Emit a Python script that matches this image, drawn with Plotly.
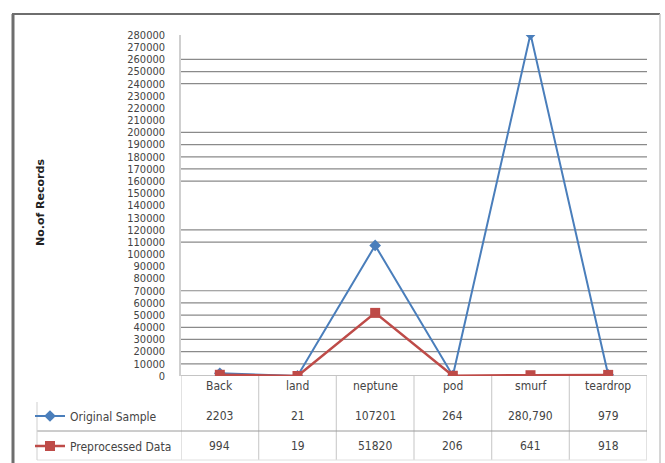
import plotly.graph_objects as go

# ---- data -------------------------------------------------------------
CATEGORIES = ["Back", "land", "neptune", "pod", "smurf", "teardrop"]
ORIGINAL_SAMPLE = [2203, 21, 107201, 264, 280790, 979]
PREPROCESSED_DATA = [994, 19, 51820, 206, 641, 918]
SERIES_NAMES = ["Original Sample", "Preprocessed Data"]
COMMA_COLUMNS = {"smurf"}  # cells printed with a thousands separator
Y_TICKS = list(range(0, 280001, 10000))
GRID_VALUES = [0, 10000, 20000, 30000, 40000, 50000, 60000, 70000,
               110000, 120000, 160000, 170000, 180000, 190000, 200000,
               240000, 250000, 260000]

W, H = 665, 463


def px(x):
    return x / W


def py(y):
    return 1 - y / H


BLUE = "#4a7ebb"
RED = "#be4b48"
TEXT = "#444444"
NARROW = "DejaVu Sans Condensed, Liberation Sans Narrow, Arial Narrow, sans-serif"

fig = go.Figure()
fig.add_trace(go.Scatter(
    x=CATEGORIES, y=ORIGINAL_SAMPLE, name=SERIES_NAMES[0], mode="lines+markers",
    line=dict(color=BLUE, width=2), marker=dict(symbol="diamond", size=9, color=BLUE),
    legend="legend"))
fig.add_trace(go.Scatter(
    x=CATEGORIES, y=PREPROCESSED_DATA, name=SERIES_NAMES[1], mode="lines+markers",
    line=dict(color=RED, width=2.5), marker=dict(symbol="square", size=10, color=RED),
    legend="legend2"))

shapes = []
# horizontal gridlines
for g in GRID_VALUES:
    shapes.append(dict(type="line", xref="paper", yref="y", x0=px(181), x1=px(647),
                       y0=g, y1=g, line=dict(color="#8a8a8a", width=1.2), layer="below"))

# data table grid below the plot
for i in range(len(CATEGORIES) + 1):
    shapes.append(dict(type="line", xref="x", yref="paper", x0=i - 0.5, x1=i - 0.5,
                       y0=py(376), y1=py(460), line=dict(color="#cfcfcf", width=1.2)))
shapes.append(dict(type="line", xref="paper", yref="paper", x0=px(37), x1=px(647),
                   y0=py(431), y1=py(431), line=dict(color="#9a9a9a", width=1)))
shapes.append(dict(type="line", xref="paper", yref="paper", x0=px(37), x1=px(647),
                   y0=py(460), y1=py(460), line=dict(color="#e0e0e0", width=1)))
shapes.append(dict(type="line", xref="paper", yref="paper", x0=px(37), x1=px(37),
                   y0=py(402), y1=py(460), line=dict(color="#cfcfcf", width=1)))

# chart frame
shapes.append(dict(type="line", xref="paper", yref="paper", x0=px(13), x1=px(13),
                   y0=py(14), y1=0, line=dict(color="#6e6e6e", width=3)))
shapes.append(dict(type="line", xref="paper", yref="paper", x0=px(12), x1=px(660),
                   y0=py(14), y1=py(14), line=dict(color="#6e6e6e", width=2)))
shapes.append(dict(type="line", xref="paper", yref="paper", x0=px(660), x1=px(660),
                   y0=py(14), y1=0, line=dict(color="#c8c8c8", width=1.5)))

annotations = []
# category row and value rows of the table
for i, cat in enumerate(CATEGORIES):
    annotations.append(dict(x=cat, y=py(386), xref="x", yref="paper", text=cat,
                            xanchor="center", yanchor="middle", showarrow=False,
                            font=dict(family=NARROW, size=12, color=TEXT)))
    for vals, row_y in ((ORIGINAL_SAMPLE, 416), (PREPROCESSED_DATA, 446)):
        v = vals[i]
        label = f"{v:,}" if cat in COMMA_COLUMNS else str(v)
        annotations.append(dict(x=cat, y=py(row_y), xref="x", yref="paper", text=label,
                                xanchor="center", yanchor="middle", showarrow=False,
                                font=dict(family=NARROW, size=12, color=TEXT)))

annotations.append(dict(x=px(40), y=py(203), xref="paper", yref="paper",
                        text="<b>No.of Records</b>", textangle=-90, showarrow=False,
                        xanchor="center", yanchor="middle",
                        font=dict(family="DejaVu Sans", size=11, color="#222222")))

legend_common = dict(bgcolor="rgba(0,0,0,0)", borderwidth=0, xanchor="left",
                     yanchor="middle", itemwidth=30,
                     font=dict(family=NARROW, size=12, color=TEXT))

fig.update_layout(
    width=W, height=H,
    margin=dict(l=0, r=0, t=0, b=0, pad=0, autoexpand=False),
    paper_bgcolor="white", plot_bgcolor="white",
    showlegend=True,
    legend=dict(x=px(30), y=py(416), **legend_common),
    legend2=dict(x=px(30), y=py(446), **legend_common),
    xaxis=dict(domain=[px(181), px(647)], range=[-0.5, 5.5], type="category",
               showticklabels=False, showgrid=False, zeroline=False, showline=False,
               automargin=False, fixedrange=True),
    yaxis=dict(domain=[py(376), py(35)], range=[0, 280000], tickvals=Y_TICKS,
               tickformat="d", showgrid=False, zeroline=False,
               showline=True, linecolor="#cfcfcf", linewidth=1.5,
               ticks="", ticklabelstandoff=12, automargin=False,
               tickfont=dict(family=NARROW, size=11, color=TEXT)),
    shapes=shapes,
    annotations=annotations,
)

fig.write_html("out.html")
